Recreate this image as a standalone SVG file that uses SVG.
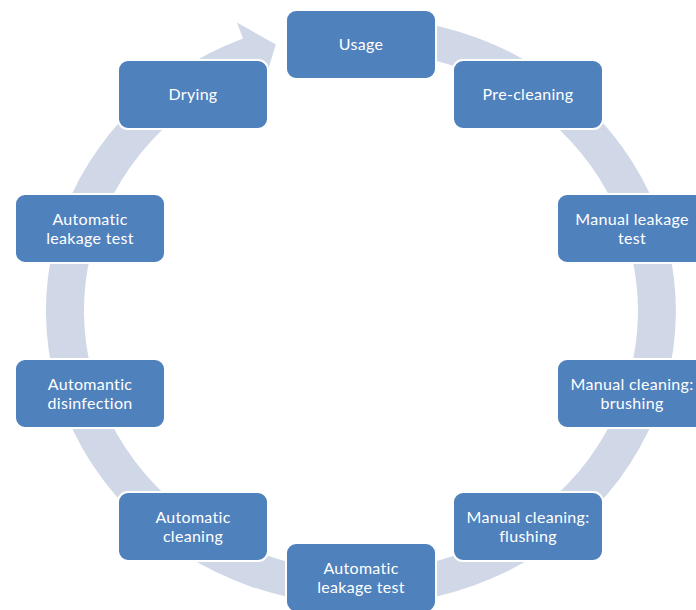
<svg xmlns="http://www.w3.org/2000/svg" width="696" height="610" viewBox="0 0 696 610">
  <style>
    .ring { fill: #D0D8E8; }
    .box { fill: #4F81BD; stroke: #FFFFFF; stroke-width: 2; }
    .lbl { fill: #FFFFFF; font-family: Lato, "Open Sans", "Liberation Sans", sans-serif; font-size: 16px; letter-spacing: 0.3px; text-anchor: middle; }
  </style>
  <rect width="696" height="610" fill="#FFFFFF"/>

  <!-- circular arrow running clockwise around the cycle, ending at Usage -->
  <g id="connectors">
    <path class="ring" d="M 404.8 19.9 A 315 294 0 1 1 243 38.4 L 237 22.5 L 275.8 44.5 L 263.2 85.8 L 257.2 69.9 A 277 260 0 1 0 399.6 53.5 Z"/>
  </g>

  <g id="usage">
    <rect class="box" x="286" y="10" width="150" height="69" rx="10"/>
    <text class="lbl" x="361" y="50">Usage</text>
  </g>
  <g id="pre-cleaning">
    <rect class="box" x="453" y="60" width="150" height="69" rx="10"/>
    <text class="lbl" x="528" y="100">Pre-cleaning</text>
  </g>
  <g id="manual-leakage-test">
    <rect class="box" x="557" y="194" width="150" height="69" rx="10"/>
    <text class="lbl" x="632" y="224.5">Manual leakage</text>
    <text class="lbl" x="632" y="244">test</text>
  </g>
  <g id="manual-brushing">
    <rect class="box" x="557" y="359" width="150" height="69" rx="10"/>
    <text class="lbl" x="632" y="389.5">Manual cleaning:</text>
    <text class="lbl" x="632" y="409">brushing</text>
  </g>
  <g id="manual-flushing">
    <rect class="box" x="453" y="492" width="150" height="69" rx="10"/>
    <text class="lbl" x="528" y="522.5">Manual cleaning:</text>
    <text class="lbl" x="528" y="542">flushing</text>
  </g>
  <g id="automatic-leakage-test-bottom">
    <rect class="box" x="286" y="543" width="150" height="69" rx="10"/>
    <text class="lbl" x="361" y="573.5">Automatic</text>
    <text class="lbl" x="361" y="593">leakage test</text>
  </g>
  <g id="automatic-cleaning">
    <rect class="box" x="118" y="492" width="150" height="69" rx="10"/>
    <text class="lbl" x="193" y="522.5">Automatic</text>
    <text class="lbl" x="193" y="542">cleaning</text>
  </g>
  <g id="automatic-disinfection">
    <rect class="box" x="15" y="359" width="150" height="69" rx="10"/>
    <text class="lbl" x="90" y="389.5">Automantic</text>
    <text class="lbl" x="90" y="409">disinfection</text>
  </g>
  <g id="automatic-leakage-test-left">
    <rect class="box" x="15" y="194" width="150" height="69" rx="10"/>
    <text class="lbl" x="90" y="224.5">Automatic</text>
    <text class="lbl" x="90" y="244">leakage test</text>
  </g>
  <g id="drying">
    <rect class="box" x="118" y="60" width="150" height="69" rx="10"/>
    <text class="lbl" x="193" y="100">Drying</text>
  </g>
</svg>
